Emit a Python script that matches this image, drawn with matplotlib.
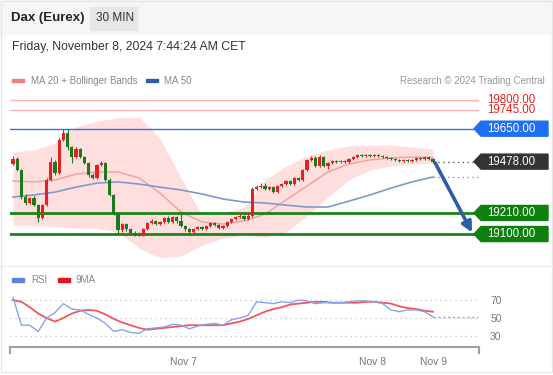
import numpy as np
import matplotlib
matplotlib.use('Agg')
from matplotlib import pyplot as plt
from matplotlib.patches import Rectangle, Polygon
from matplotlib.transforms import blended_transform_factory

plt.rcParams['font.family'] = ['Liberation Sans', 'DejaVu Sans']

# ---- data (30 min candles) ----
first_open = 19466
close = [19492, 19434, 19293, 19262, 19288, 19251, 19184, 19251, 19382, 19476,
         19419, 19591, 19628, 19554, 19502, 19544, 19502, 19471, 19408, 19393,
         19460, 19471, 19382, 19304, 19210, 19121, 19152, 19126, 19105, 19100,
         19095, 19126, 19157, 19168, 19152, 19163, 19184, 19163, 19189, 19168,
         19142, 19126, 19110, 19126, 19137, 19126, 19142, 19157, 19147, 19131,
         19142, 19163, 19178, 19189, 19194, 19178, 19194, 19335, 19345, 19351,
         19335, 19345, 19319, 19351, 19361, 19377, 19361, 19393, 19382, 19434,
         19487, 19497, 19455, 19502, 19455, 19471, 19481, 19476, 19481, 19476,
         19492, 19502, 19513, 19507, 19513, 19507, 19513, 19507, 19502, 19497,
         19492, 19487, 19481, 19487, 19481, 19487, 19497, 19492, 19502, 19492,
         19478]
high = [19510, 19500, 19440, 19310, 19295, 19300, 19258, 19258, 19390, 19500,
        19485, 19600, 19648, 19650, 19560, 19555, 19550, 19508, 19478, 19420,
        19468, 19480, 19478, 19390, 19310, 19215, 19160, 19158, 19132, 19118,
        19110, 19132, 19165, 19178, 19172, 19170, 19190, 19192, 19195, 19195,
        19210, 19148, 19130, 19132, 19142, 19142, 19148, 19163, 19163, 19152,
        19148, 19170, 19185, 19195, 19205, 19200, 19215, 19345, 19356, 19365,
        19365, 19352, 19350, 19358, 19368, 19383, 19382, 19398, 19398, 19440,
        19493, 19510, 19505, 19512, 19508, 19478, 19487, 19487, 19487, 19487,
        19497, 19508, 19518, 19518, 19518, 19518, 19518, 19518, 19512, 19507,
        19502, 19497, 19492, 19492, 19492, 19492, 19502, 19502, 19507, 19507,
        19497]
low = [19460, 19428, 19285, 19250, 19255, 19245, 19165, 19178, 19245, 19375,
       19410, 19412, 19585, 19540, 19470, 19495, 19495, 19465, 19400, 19385,
       19388, 19455, 19375, 19298, 19200, 19100, 19110, 19118, 19098, 19092,
       19088, 19090, 19120, 19150, 19145, 19148, 19158, 19158, 19158, 19160,
       19135, 19118, 19102, 19105, 19120, 19120, 19120, 19137, 19140, 19125,
       19126, 19137, 19158, 19172, 19184, 19172, 19172, 19188, 19328, 19340,
       19328, 19330, 19312, 19315, 19345, 19355, 19355, 19356, 19376, 19376,
       19428, 19480, 19448, 19450, 19450, 19440, 19465, 19470, 19470, 19470,
       19470, 19487, 19497, 19502, 19502, 19502, 19502, 19502, 19497, 19492,
       19487, 19482, 19476, 19476, 19476, 19476, 19482, 19487, 19487, 19487,
       19473]

# MA / Bollinger values every 5 candles
band_idx = list(range(0, 101, 5))
ma20 = [19377, 19372, 19382, 19413, 19424, 19424, 19393, 19314, 19215, 19163, 19152,
        19168, 19204, 19278, 19351, 19424, 19466, 19487, 19497, 19502, 19497]
ma50 = [19293, 19304, 19319, 19345, 19366, 19372, 19361, 19345, 19330, 19309, 19283,
        19267, 19262, 19251, 19241, 19241, 19272, 19304, 19340, 19372, 19398]
bb_upper = [19528, 19539, 19575, 19659, 19690, 19706, 19711, 19601, 19393, 19199, 19215,
            19236, 19382, 19455, 19507, 19539, 19560, 19565, 19565, 19554, 19544]
bb_lower = [19147, 19142, 19142, 19131, 19131, 19110, 19027, 18975, 18985, 19042, 19079,
            19095, 19084, 19110, 19194, 19293, 19382, 19434, 19455, 19466, 19471]

# RSI and its 9MA every 2 candles
rsi_idx = list(range(0, 101, 2))
rsi = [73, 42, 42, 35, 50, 56, 66, 60, 59, 54, 50, 44, 35, 37, 34, 33, 38, 39, 40, 43,
       42, 38, 41, 43, 44, 42, 48, 50, 53, 68, 67, 66, 68, 67, 70, 69, 66, 67, 67, 67,
       68, 69, 69, 68, 66, 59, 57, 59, 59, 57, 51]
rsi_ma = [70, 68, 62, 55, 50, 46, 50, 55, 58, 59, 58, 54, 49, 45, 42, 39, 37, 38, 39, 40,
          41, 42, 42, 42, 42, 42, 44, 46, 49, 53, 57, 60, 62, 65, 66, 67, 68, 68, 67, 67,
          67, 67, 68, 68, 67, 66, 63, 61, 60, 58, 57]
rsi_levels = [70, 50, 30]

resistances = [19800, 19745]
pivot = 19650
supports = [19210, 19100]
last_price = 19478

date_ticks = [40.5, 85.5, 100.2]
date_labels = ['Nov 7', 'Nov 8', 'Nov 9']

# ---- figure ----
W, H = 553, 375
fig = plt.figure(figsize=(W / 100, H / 100), dpi=100)
fig.patch.set_facecolor('white')

def fx(px):
    return px / W

def fy(py):
    return 1 - py / H

# header
fig.patches.append(Rectangle((0, fy(34)), 1, 34 / H, transform=fig.transFigure,
                             color='#f6f6f6', zorder=0))
fig.patches.append(Rectangle((fx(90), fy(30)), 47 / W, 23 / H, transform=fig.transFigure,
                             color='#e6e6e6', zorder=1))
fig.text(fx(11), fy(18), 'Dax (Eurex)', fontsize=9.5, weight='bold', color='#222222', va='center')
fig.text(fx(96), fy(18), '30 MIN', fontsize=8.5, color='#333333', va='center')
fig.text(fx(12), fy(47), 'Friday, November 8, 2024 7:44:24 AM CET', fontsize=8.8,
         color='#333333', va='center')

# legend row
fig.patches.append(Rectangle((fx(12), fy(82)), 12 / W, 3.5 / H, transform=fig.transFigure,
                             color='#f27f7f'))
fig.text(fx(31), fy(80.5), 'MA 20 + Bollinger Bands', fontsize=7, color='#888888', va='center')
fig.patches.append(Rectangle((fx(146), fy(82)), 12 / W, 3.5 / H, transform=fig.transFigure,
                             color='#2f5ea8'))
fig.text(fx(164), fy(80.5), 'MA 50', fontsize=7, color='#888888', va='center')
fig.text(fx(545), fy(80.5), 'Research \u00a9 2024 Trading Central', fontsize=7,
         color='#999999', va='center', ha='right')

# ---- main price panel ----
x_left, x_right = 10, 479
ax = fig.add_axes([fx(x_left), fy(262), (x_right - x_left) / W, (262 - 90) / H])
ax.set_xlim((x_left - 13) / 4.2, (x_right - 13) / 4.2)
ax.set_ylim(18954, 19852)
ax.axis('off')

n = len(close)
idx = np.arange(n)
o = np.array([first_open] + close[:-1], dtype=float)
c = np.array(close, dtype=float)

ax.fill_between(band_idx, bb_lower, bb_upper, color='#ffdede', lw=0, zorder=1)
ax.plot(band_idx, ma20, color='#f8a0a0', lw=1.1, zorder=2)
ax.plot(band_idx, ma50, color='#7f98cf', lw=1.2, zorder=2)

for lvl in resistances:
    ax.axhline(lvl, color='#f9b3b3', lw=1, zorder=3)
ax.axhline(pivot, color='#3d6fd6', lw=1, zorder=3)
for lvl in supports:
    ax.axhline(lvl, color='#1c831c', lw=2, zorder=3)

up = c >= o
cols = np.where(up, '#e3221e', '#1b7a1b')
ax.vlines(idx, low, high, colors=cols, lw=0.8, zorder=4)
tiny = np.abs(c - o) < 6
ax.bar(idx, np.where(tiny, 6, c - o), bottom=np.where(tiny, (o + c) / 2 - 3, o), width=0.8,
       color=cols, lw=0, zorder=5)

# continuation guides after the last candle
ax.plot([idx[-1], ax.get_xlim()[1]], [last_price, last_price], color='#555555', lw=1,
        ls=(0, (1, 2.5)), zorder=3)
ax.plot([band_idx[-1], ax.get_xlim()[1] - 0.3], [ma50[-1], ma50[-1]], color='#7f98cf', lw=1,
        ls=(0, (1, 2.5)), zorder=3)

# forecast arrow towards the lower target
ax.annotate('', xy=(109.3, supports[1] + 8), xytext=(idx[-1] + 0.5, close[-1] - 6),
            arrowprops=dict(arrowstyle='-|>', color='#2d5da6', lw=2.6, mutation_scale=15,
                            shrinkA=0, shrinkB=0), zorder=6)

# right-hand price tags
trans = blended_transform_factory(ax.transAxes, ax.transData)
ppx = (ax.get_ylim()[1] - ax.get_ylim()[0]) / 172.0
span = x_right - x_left

def tag(price, text, color):
    hh = 7.5 * ppx
    a = (474 - x_left) / span
    b = (481 - x_left) / span
    e = (548 - x_left) / span
    ax.add_patch(Polygon([(a, price), (b, price + hh), (e, price + hh), (e, price - hh),
                          (b, price - hh)], closed=True, transform=trans, color=color,
                         clip_on=False, zorder=6))
    ax.text((487 - x_left) / span, price, text, transform=trans, color='white', fontsize=8.3,
            va='center', ha='left', clip_on=False, zorder=7)

for lvl in resistances:
    ax.text((487 - x_left) / span, lvl, f'{lvl:.2f}', transform=trans, color='#e8201c',
            fontsize=8.3, va='center', ha='left', clip_on=False)
tag(pivot, f'{pivot:.2f}', '#1f6ff2')
tag(last_price, f'{last_price:.2f}', '#333333')
for lvl in supports:
    tag(lvl, f'{lvl:.2f}', '#0d800d')

# separator between panels
fig.add_artist(plt.Line2D([0, 1], [fy(266), fy(266)], color='#eeeeee', lw=1))

# ---- RSI panel ----
fig.patches.append(Rectangle((fx(12), fy(281.5)), 12 / W, 3.5 / H, transform=fig.transFigure,
                             color='#5e82e2'))
fig.text(fx(31), fy(280), 'RSI', fontsize=7, color='#888888', va='center')
fig.patches.append(Rectangle((fx(58), fy(281.5)), 12 / W, 3.5 / H, transform=fig.transFigure,
                             color='#e8141c'))
fig.text(fx(76), fy(280), '9MA', fontsize=7, color='#888888', va='center')

ar = fig.add_axes([fx(x_left), fy(347), (x_right - x_left) / W, (347 - 288) / H])
ar.set_xlim(ax.get_xlim())
ar.set_ylim(50 - (347 - 318) / 0.9, 50 + (318 - 288) / 0.9)
for lvl in rsi_levels:
    ar.axhline(lvl, color='#c4c4c4', lw=0.9, ls=(0, (1, 3)), zorder=1)
ar.plot(rsi_idx, rsi, color='#86a3ec', lw=1, zorder=3)
ar.plot(rsi_idx, rsi_ma, color='#f2555a', lw=1.3, zorder=2)
ar.plot([rsi_idx[-1], ar.get_xlim()[1] - 0.3], [rsi[-1], rsi[-1]], color='#86a3ec', lw=1,
        ls=(0, (1.5, 2)), zorder=3)

for s in ['top', 'left', 'right']:
    ar.spines[s].set_visible(False)
ar.spines['bottom'].set_color('#a0a0a0')
ar.spines['bottom'].set_linewidth(1.5)
ar.plot([0, 0], [0, -0.1], transform=ar.transAxes, color='#a0a0a0', lw=1.5, clip_on=False)
ar.plot([1, 1], [0, -0.1], transform=ar.transAxes, color='#a0a0a0', lw=1.5, clip_on=False)
ar.set_xticks(date_ticks)
ar.set_xticklabels(date_labels, fontsize=7.5, color='#777777')
ar.tick_params(axis='x', length=0, pad=7)
ar.yaxis.tick_right()
ar.set_yticks(rsi_levels)
ar.set_yticklabels([str(v) for v in rsi_levels], fontsize=7.5, color='#777777')
ar.tick_params(axis='y', length=0, pad=8)
ar.set_facecolor('none')

# outer frame
fig.patches.append(Rectangle((0.001, fy(372)), 0.997, (372 - 0.5) / H, transform=fig.transFigure,
                             fill=False, edgecolor='#e6e6e6', lw=1, zorder=0))

fig.savefig('out.png', dpi=100)
